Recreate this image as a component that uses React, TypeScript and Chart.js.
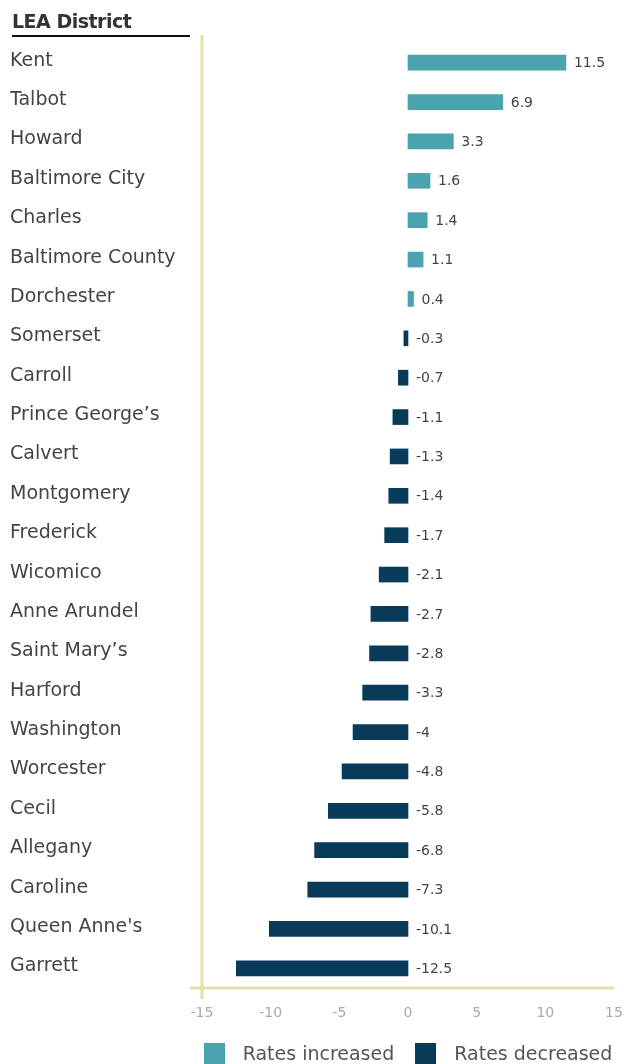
import React, { useEffect, useRef } from "react";
import { Chart, registerables } from "chart.js";

Chart.register(...registerables);

const districts = [
  "Kent", "Talbot", "Howard", "Baltimore City", "Charles", "Baltimore County",
  "Dorchester", "Somerset", "Carroll", "Prince George’s", "Calvert", "Montgomery",
  "Frederick", "Wicomico", "Anne Arundel", "Saint Mary’s", "Harford", "Washington",
  "Worcester", "Cecil", "Allegany", "Caroline", "Queen Anne's", "Garrett",
];
const changes = [
  11.5, 6.9, 3.3, 1.6, 1.4, 1.1, 0.4, -0.3, -0.7, -1.1, -1.3, -1.4,
  -1.7, -2.1, -2.7, -2.8, -3.3, -4, -4.8, -5.8, -6.8, -7.3, -10.1, -12.5,
];
const seriesNames = ["Rates increased", "Rates decreased"];
const xTicks = [-15, -10, -5, 0, 5, 10, 15];

const TEAL = "#4aa3ae";
const NAVY = "#083a5a";
const seriesColors = [TEAL, NAVY];
const AXIS = "#e4dfab";
const FONT = "'DejaVu Sans', sans-serif";

const increased = changes.map((v) => (v >= 0 ? v : null));
const decreased = changes.map((v) => (v < 0 ? v : null));

const axisPlugin = {
  id: "axisLines",
  afterDraw(chart: any) {
    const { ctx, chartArea, scales } = chart;
    const x0 = scales.x.getPixelForValue(xTicks[0]);
    ctx.save();
    ctx.strokeStyle = AXIS;
    ctx.lineWidth = 3;
    ctx.beginPath();
    ctx.moveTo(x0, chartArea.top - 8);
    ctx.lineTo(x0, chartArea.bottom + 11);
    ctx.moveTo(chartArea.left - 12, chartArea.bottom);
    ctx.lineTo(chartArea.right, chartArea.bottom);
    ctx.stroke();
    ctx.restore();
  },
};

const labelPlugin = {
  id: "valueLabels",
  afterDatasetsDraw(chart: any) {
    const { ctx, scales } = chart;
    const zero = scales.x.getPixelForValue(0);
    ctx.save();
    ctx.font = `14px ${FONT}`;
    ctx.fillStyle = "#444";
    ctx.textAlign = "left";
    ctx.textBaseline = "middle";
    chart.data.datasets.forEach((ds: any, di: number) => {
      const meta = chart.getDatasetMeta(di);
      meta.data.forEach((bar: any, i: number) => {
        const v = ds.data[i];
        if (v === null || v === undefined) return;
        const x = v >= 0 ? bar.x + 8 : zero + 8;
        ctx.fillText(String(v), x, bar.y + 1);
      });
    });
    ctx.restore();
  },
};

export default function App() {
  const ref = useRef<HTMLCanvasElement | null>(null);

  useEffect(() => {
    if (!ref.current) return;
    const chart = new Chart(ref.current, {
      type: "bar",
      data: {
        labels: districts,
        datasets: [
          { label: seriesNames[0], data: increased, backgroundColor: TEAL, grouped: false, barThickness: 15 } as any,
          { label: seriesNames[1], data: decreased, backgroundColor: NAVY, grouped: false, barThickness: 15 } as any,
        ],
      },
      options: {
        indexAxis: "y",
        animation: false,
        responsive: false,
        maintainAspectRatio: false,
        layout: { padding: { top: 43, left: 10, right: 17, bottom: 31 } },
        scales: {
          x: {
            min: -15,
            max: 15,
            afterBuildTicks: (scale: any) => {
              scale.ticks = xTicks.map((v) => ({ value: v }));
            },
            grid: { display: false, drawTicks: false },
            border: { display: false },
            ticks: { color: "#aaa", font: { family: FONT, size: 14 }, padding: 17 },
            afterFit: (scale: any) => {
              scale.height = 45;
              scale.paddingLeft = 0;
              scale.paddingRight = 0;
            },
          },
          y: {
            grid: { display: false, drawTicks: false },
            border: { display: false },
            ticks: {
              crossAlign: "far",
              color: "#444",
              font: { family: FONT, size: 19 },
              autoSkip: false,
              labelOffset: -2,
            },
            afterFit: (scale: any) => { scale.width = 192; },
          },
        },
        plugins: {
          legend: { display: false },
          tooltip: { enabled: false },
        },
      },
      plugins: [axisPlugin, labelPlugin],
    });
    return () => chart.destroy();
  }, []);

  return (
    <div style={{ position: "fixed", left: 0, top: 0, width: 631, height: 1064, overflow: "hidden", background: "#fff" }}>
      <div
        style={{
          position: "absolute",
          left: 12,
          top: 8,
          width: 178,
          fontFamily: FONT,
          fontWeight: 700,
          fontSize: 19,
          color: "#333",
          letterSpacing: -0.5,
          borderBottom: "2px solid #111",
          paddingBottom: 1,
          lineHeight: "26px",
        }}
      >
        LEA District
      </div>
      <canvas ref={ref} width={631} height={1064} style={{ display: "block" }} />
      <div
        style={{
          position: "absolute",
          left: 202,
          width: 412,
          top: 1042,
          height: 22,
          display: "flex",
          justifyContent: "center",
          alignItems: "center",
          gap: 21,
          fontFamily: FONT,
          fontSize: 19,
          color: "#555",
          whiteSpace: "nowrap",
        }}
      >
        {seriesNames.map((name, i) => (
          <div key={name} style={{ display: "flex", alignItems: "center", gap: 18 }}>
            <span style={{ display: "inline-block", width: 21, height: 21, background: seriesColors[i] }} />
            <span style={{ lineHeight: "22px" }}>{name}</span>
          </div>
        ))}
      </div>
    </div>
  );
}
